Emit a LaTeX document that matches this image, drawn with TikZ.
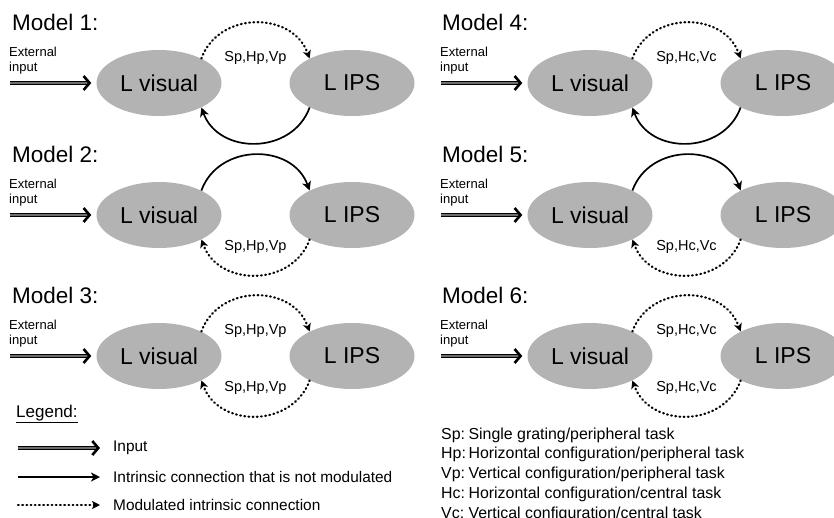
\documentclass[tikz,border=0pt]{standalone}
\usepackage{fontspec}
\setmainfont{Liberation Sans}
\usepackage{tikz}
\usetikzlibrary{arrows.meta,shapes.geometric}
\definecolor{roigray}{HTML}{B3B3B3}
\definecolor{inpgray}{HTML}{6E6E6E}

\begin{document}
\begin{tikzpicture}[x=1pt,y=-1pt,
  roi/.style={ellipse,fill=roigray,minimum width=125pt,minimum height=66pt,
    inner sep=0pt,font=\fontsize{23}{26}\selectfont},
  ttl/.style={anchor=west,inner sep=0pt,font=\fontsize{22.5}{26}\selectfont},
  ext/.style={anchor=west,align=left,inner sep=0pt,
    font=\fontsize{13}{15}\selectfont},
  lbl/.style={inner sep=0pt,font=\fontsize{14.5}{17}\selectfont},
  leg/.style={anchor=west,inner sep=0pt,font=\fontsize{15.4}{18}\selectfont},
  inp/.style={double=inpgray,double distance=2.4pt,line width=1.2pt,
    -{Straight Barb[length=6pt,width=14pt,line width=2.6pt,color=black]}},
  fix/.style={line width=1.7pt,looseness=1.2,
    -{Stealth[length=9pt,width=9pt,inset=2.5pt]}},
  mod/.style={line width=2.2pt,dash pattern=on 0.8pt off 3.4pt,line cap=round,
    looseness=1.2,-{Stealth[length=8pt,width=8pt,inset=2pt]}}]
  \useasboundingbox (0,0) rectangle (834,517);

  % left column
  \node[ttl] (ttl1) at (12,22) {Model 1:};
  \node[ext] (ext1) at (9,61) {External\\input};
  \coordinate (in1) at (10,83);
  \node[roi] (vis1) at (159,83) {L visual};
  \node[roi] (ips1) at (352,83) {L IPS};
  \draw[inp,shorten >=5pt] (in1) -- (vis1);
  \draw[mod] (vis1.30) to[out=70,in=110]
    node[lbl,below=27pt] {Sp,Hp,Vp} (ips1.150);
  \draw[fix] (ips1.-150) to[out=-110,in=-70] (vis1.-30);

  \node[ttl] (ttl2) at (12,154) {Model 2:};
  \node[ext] (ext2) at (9,193) {External\\input};
  \coordinate (in2) at (10,215);
  \node[roi] (vis2) at (159,215) {L visual};
  \node[roi] (ips2) at (352,215) {L IPS};
  \draw[inp,shorten >=5pt] (in2) -- (vis2);
  \draw[fix] (vis2.30) to[out=70,in=110] (ips2.150);
  \draw[mod] (ips2.-150) to[out=-110,in=-70]
    node[lbl,above=21pt] {Sp,Hp,Vp} (vis2.-30);

  \node[ttl] (ttl3) at (12,295) {Model 3:};
  \node[ext] (ext3) at (9,334) {External\\input};
  \coordinate (in3) at (10,356);
  \node[roi] (vis3) at (159,356) {L visual};
  \node[roi] (ips3) at (352,356) {L IPS};
  \draw[inp,shorten >=5pt] (in3) -- (vis3);
  \draw[mod] (vis3.30) to[out=70,in=110]
    node[lbl,below=27pt] {Sp,Hp,Vp} (ips3.150);
  \draw[mod] (ips3.-150) to[out=-110,in=-70]
    node[lbl,above=21pt] {Sp,Hp,Vp} (vis3.-30);

  % right column
  \node[ttl] (ttl4) at (442,22) {Model 4:};
  \node[ext] (ext4) at (440,61) {External\\input};
  \coordinate (in4) at (441,83);
  \node[roi] (vis4) at (590,83) {L visual};
  \node[roi] (ips4) at (783,83) {L IPS};
  \draw[inp,shorten >=5pt] (in4) -- (vis4);
  \draw[mod] (vis4.30) to[out=70,in=110]
    node[lbl,below=27pt] {Sp,Hc,Vc} (ips4.150);
  \draw[fix] (ips4.-150) to[out=-110,in=-70] (vis4.-30);

  \node[ttl] (ttl5) at (442,154) {Model 5:};
  \node[ext] (ext5) at (440,193) {External\\input};
  \coordinate (in5) at (441,215);
  \node[roi] (vis5) at (590,215) {L visual};
  \node[roi] (ips5) at (783,215) {L IPS};
  \draw[inp,shorten >=5pt] (in5) -- (vis5);
  \draw[fix] (vis5.30) to[out=70,in=110] (ips5.150);
  \draw[mod] (ips5.-150) to[out=-110,in=-70]
    node[lbl,above=21pt] {Sp,Hc,Vc} (vis5.-30);

  \node[ttl] (ttl6) at (442,295) {Model 6:};
  \node[ext] (ext6) at (440,334) {External\\input};
  \coordinate (in6) at (441,356);
  \node[roi] (vis6) at (590,356) {L visual};
  \node[roi] (ips6) at (783,356) {L IPS};
  \draw[inp,shorten >=5pt] (in6) -- (vis6);
  \draw[mod] (vis6.30) to[out=70,in=110]
    node[lbl,below=27pt] {Sp,Hc,Vc} (ips6.150);
  \draw[mod] (ips6.-150) to[out=-110,in=-70]
    node[lbl,above=21pt] {Sp,Hc,Vc} (vis6.-30);

  % legend
  \node[leg,font=\fontsize{17}{20}\selectfont] (legend) at (16,414)
    {\underline{Legend:}};
  \coordinate (lga1) at (18,448);
  \coordinate (lgb1) at (100,448);
  \coordinate (lga2) at (18,477);
  \coordinate (lgb2) at (100,477);
  \coordinate (lga3) at (18,505);
  \coordinate (lgb3) at (100,505);
  \draw[inp] (lga1) -- (lgb1);
  \draw[fix] (lga2) -- (lgb2);
  \draw[mod] (lga3) -- (lgb3);
  \node[leg] (lgt1) at (113,448) {Input};
  \node[leg] (lgt2) at (113,477) {Intrinsic connection that is not modulated};
  \node[leg] (lgt3) at (113,505) {Modulated intrinsic connection};
  \node[anchor=north west,inner sep=0pt,font=\fontsize{15.9}{19.75}\selectfont]
    (abbr) at (441,425) {\begin{tabular}{@{}l@{\,}l@{}}
      Sp: & Single grating/peripheral task\\
      Hp: & Horizontal configuration/peripheral task\\
      Vp: & Vertical configuration/peripheral task\\
      Hc: & Horizontal configuration/central task\\
      Vc: & Vertical configuration/central task
    \end{tabular}};
\end{tikzpicture}
\end{document}
